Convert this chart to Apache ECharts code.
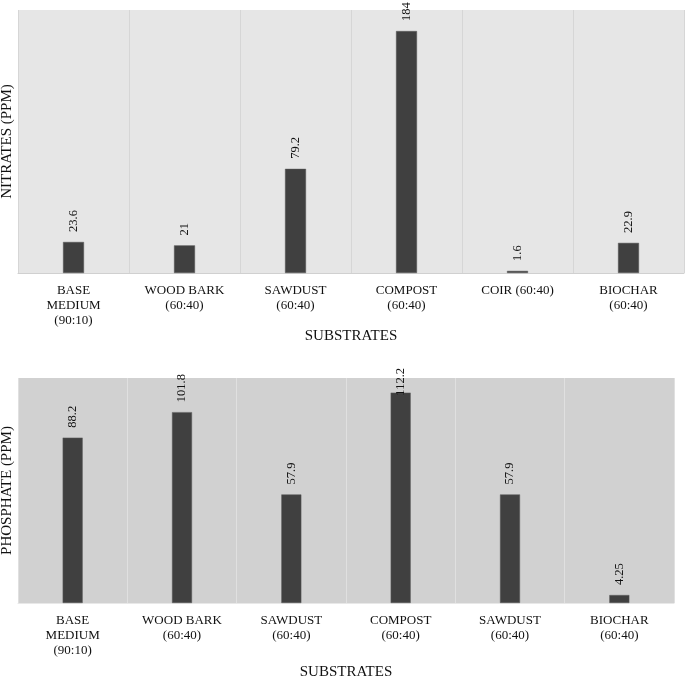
<!DOCTYPE html>
<html>
<head>
<meta charset="utf-8">
<script src="https://cdn.jsdelivr.net/npm/echarts@6/dist/echarts.min.js"></script>
<style>
html,body{margin:0;padding:0;background:#fff;}
#chart{width:685px;height:681px;}
</style>
</head>
<body>
<div id="chart"></div>
<script>
const nitrateCategories = ["BASE\nMEDIUM\n(90:10)", "WOOD BARK\n(60:40)", "SAWDUST\n(60:40)", "COMPOST\n(60:40)", "COIR (60:40)", "BIOCHAR\n(60:40)"];
const nitrateValues = [23.6, 21, 79.2, 184, 1.6, 22.9];
const phosphateCategories = ["BASE\nMEDIUM\n(90:10)", "WOOD BARK\n(60:40)", "SAWDUST\n(60:40)", "COMPOST\n(60:40)", "SAWDUST\n(60:40)", "BIOCHAR\n(60:40)"];
const phosphateValues = [88.2, 101.8, 57.9, 112.2, 57.9, 4.25];
const xAxisTitle = "SUBSTRATES";
const nitrateTitle = "NITRATES (PPM)";
const phosphateTitle = "PHOSPHATE (PPM)";

const FONT = "'Liberation Serif', 'Times New Roman', serif";
const chart = echarts.init(document.getElementById('chart'), null, {renderer: 'canvas'});

function xAxisCfg(gridIndex, cats, splitColor, lineColor, nameGap) {
  return {
    type: 'category', gridIndex: gridIndex, data: cats,
    name: xAxisTitle, nameLocation: 'middle', nameGap: nameGap,
    nameTextStyle: {fontFamily: FONT, fontSize: 15, color: '#111'},
    axisLine: {show: true, lineStyle: {color: lineColor, width: 1}},
    axisTick: {show: false},
    splitLine: {show: true, lineStyle: {color: splitColor, width: 1}},
    axisLabel: {fontFamily: FONT, fontSize: 13, color: '#111', margin: 10, lineHeight: 15, interval: 0}
  };
}
function yAxisCfg(gridIndex, max, name) {
  return {
    type: 'value', gridIndex: gridIndex, min: 0, max: max,
    name: name, nameLocation: 'middle', nameGap: 3,
    nameTextStyle: {fontFamily: FONT, fontSize: 15, color: '#111'},
    axisLine: {show: false}, axisTick: {show: false}, axisLabel: {show: false},
    splitLine: {show: false}
  };
}
const labelBase = {
  show: true, position: 'top', rotate: 90, align: 'left', verticalAlign: 'middle',
  distance: 10, fontFamily: FONT, fontSize: 12.5, color: '#111'
};
const maxP = Math.max.apply(null, phosphateValues);

chart.setOption({
  animation: false,
  backgroundColor: '#ffffff',
  grid: [
    {left: 18, top: 10, width: 666, height: 263, show: true, backgroundColor: '#e6e6e6', borderWidth: 0, outerBoundsMode: 'none', containLabel: false},
    {left: 18, top: 378, width: 656, height: 225, show: true, backgroundColor: '#d1d1d1', borderWidth: 0, outerBoundsMode: 'none', containLabel: false}
  ],
  xAxis: [
    xAxisCfg(0, nitrateCategories, '#d6d6d6', '#d0d0d0', 43),
    xAxisCfg(1, phosphateCategories, '#e0e0e0', '#e8e8e8', 62)
  ],
  yAxis: [
    yAxisCfg(0, 200, nitrateTitle),
    yAxisCfg(1, 120, phosphateTitle)
  ],
  series: [
    {
      type: 'bar', xAxisIndex: 0, yAxisIndex: 0, barWidth: 21,
      itemStyle: {color: '#404040', borderColor: '#5a5a5a', borderWidth: 0.5},
      label: labelBase,
      data: nitrateValues
    },
    {
      type: 'bar', xAxisIndex: 1, yAxisIndex: 1, barWidth: 20,
      itemStyle: {color: '#404040', borderColor: '#5a5a5a', borderWidth: 0.5},
      label: labelBase,
      data: phosphateValues.map(v => v === maxP ? {value: v, label: {distance: -3}} : v)
    }
  ]
});
</script>
</body>
</html>
